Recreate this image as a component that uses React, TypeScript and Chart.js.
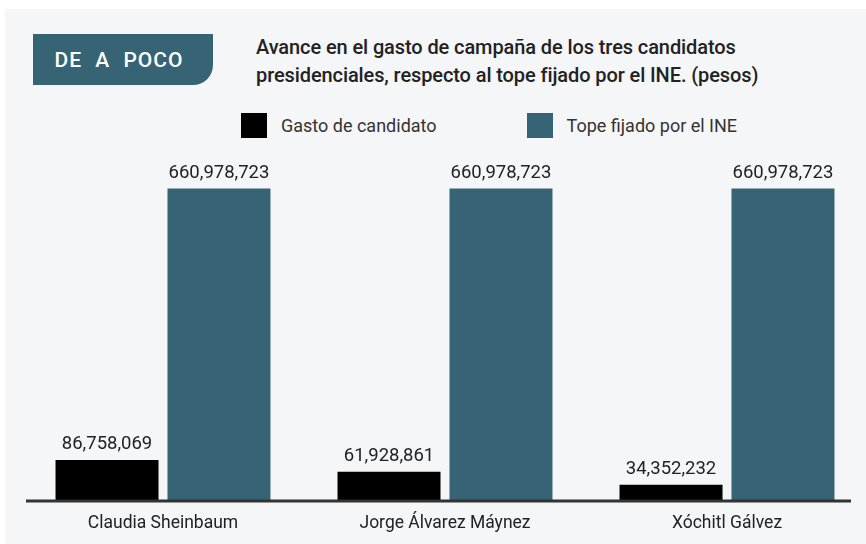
import React, { useEffect, useRef } from "react";
import { Chart, registerables } from "chart.js";

Chart.register(...registerables);

const categories = ["Claudia Sheinbaum", "Jorge Álvarez Máynez", "Xóchitl Gálvez"];
const gastoCandidato = [86758069, 61928861, 34352232];
const topeINE = [660978723, 660978723, 660978723];
const seriesLabels = ["Gasto de candidato", "Tope fijado por el INE"];
const seriesColors = ["#000000", "#376474"];
const badgeText = "DE A POCO";
const titleLines = [
  "Avance en el gasto de campaña de los tres candidatos",
  "presidenciales, respecto al tope fijado por el INE. (pesos)",
];

const FONT = "Roboto, 'Liberation Sans', sans-serif";
const fmt = (v: number) => v.toLocaleString("en-US");

const valueLabels = {
  id: "valueLabels",
  afterDatasetsDraw(chart: any) {
    const ctx = chart.ctx;
    ctx.save();
    ctx.font = `400 18.5px ${FONT}`;
    ctx.fillStyle = "#222";
    ctx.textAlign = "center";
    ctx.textBaseline = "bottom";
    chart.data.datasets.forEach((ds: any, i: number) => {
      const meta = chart.getDatasetMeta(i);
      meta.data.forEach((el: any, j: number) => {
        ctx.fillText(fmt(ds.data[j]), el.x, el.y - 6);
      });
    });
    ctx.restore();
  },
};

const axisLine = {
  id: "axisLine",
  afterDatasetsDraw(chart: any) {
    const { ctx, chartArea } = chart;
    ctx.save();
    ctx.strokeStyle = "#333";
    ctx.lineWidth = 3;
    ctx.beginPath();
    ctx.moveTo(chartArea.left + 4, chartArea.bottom);
    ctx.lineTo(chartArea.right - 17, chartArea.bottom);
    ctx.stroke();
    ctx.restore();
  },
};

export default function App() {
  const ref = useRef<HTMLCanvasElement>(null);
  useEffect(() => {
    const chart = new Chart(ref.current!, {
      type: "bar",
      data: {
        labels: categories,
        datasets: [
          { label: seriesLabels[0], data: gastoCandidato, backgroundColor: seriesColors[0] },
          { label: seriesLabels[1], data: topeINE, backgroundColor: seriesColors[1] },
        ],
      },
      options: {
        animation: false,
        responsive: false,
        maintainAspectRatio: false,
        layout: { padding: { left: 22, right: 4, top: 30, bottom: 0 } },
        datasets: { bar: { categoryPercentage: 0.794, barPercentage: 0.92 } },
        plugins: { legend: { display: false }, tooltip: { enabled: false }, title: { display: false } },
        scales: {
          x: {
            grid: { display: false, drawTicks: false },
            border: { display: false },
            ticks: { color: "#222", font: { family: FONT, size: 17.5 }, padding: 12 },
          },
          y: { display: false, min: 0, max: 700000000 },
        },
      },
      plugins: [valueLabels, axisLine],
    });
    return () => chart.destroy();
  }, []);

  return (
    <div style={{ position: "fixed", left: 0, top: 0, width: 866, height: 544, background: "#fff", overflow: "hidden", fontFamily: FONT }}>
      <div style={{ position: "absolute", left: 5, top: 9, right: 0, bottom: 0, background: "#f5f6f8" }} />
      <div
        style={{
          position: "absolute", left: 33, top: 34, width: 180, height: 51, background: "#376474",
          borderBottomRightRadius: 20, color: "#fff", fontSize: 21, fontWeight: 500, letterSpacing: 1,
          wordSpacing: 7, display: "flex", alignItems: "center", justifyContent: "center", paddingRight: 8, boxSizing: "border-box",
        }}
      >
        {badgeText}
      </div>
      <div style={{ position: "absolute", left: 256, top: 33, color: "#222", fontSize: 20, lineHeight: "28px", fontWeight: 500, letterSpacing: -0.1 }}>
        {titleLines.map((t, i) => <div key={i}>{t}</div>)}
      </div>
      <div style={{ position: "absolute", left: 241, top: 113, height: 25, display: "flex", alignItems: "center", color: "#333", fontSize: 18 }}>
        {seriesLabels.map((l, i) => (
          <div key={i} style={{ display: "flex", alignItems: "center", marginRight: i === 0 ? 90 : 0 }}>
            <span style={{ display: "inline-block", width: 26, height: 25, background: seriesColors[i], marginRight: 14 }} />
            <span>{l}</span>
          </div>
        ))}
      </div>
      <canvas ref={ref} width={872} height={406} style={{ position: "absolute", left: 0, top: 140, width: 872, height: 406 }} />
    </div>
  );
}
